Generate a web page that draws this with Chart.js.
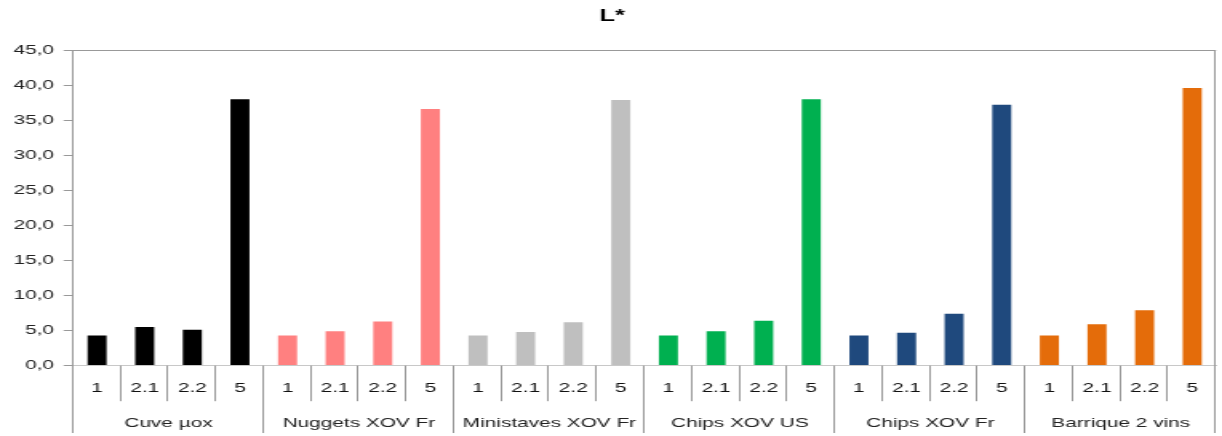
<!DOCTYPE html>
<html>
<head>
<meta charset="utf-8">
<script src="https://cdn.jsdelivr.net/npm/chart.js@4"></script>
<style>
    html, body { margin: 0; padding: 0; background: #fff; }
    /* the reference picture is stretched sideways, so draw narrow and stretch the canvas */
    #chart { display: block; width: 1222px !important; height: 436px !important; }
</style>
</head>
<body>
<canvas id="chart" width="764" height="436" style="width:1222px;height:436px"></canvas>
<script>
// Group names and sample labels
const groups = ['Cuve µox', 'Nuggets XOV Fr', 'Ministaves XOV Fr', 'Chips XOV US', 'Chips XOV Fr', 'Barrique 2 vins'];
const samples = ['1', '2.1', '2.2', '5'];

// L* values per group
const cuveMuox = [4.3, 5.5, 5.1, 38.0];
const nuggetsFr = [4.3, 4.9, 6.3, 36.6];
const ministavesFr = [4.3, 4.8, 6.2, 37.9];
const chipsUS = [4.3, 4.9, 6.4, 38.0];
const chipsFr = [4.3, 4.7, 7.4, 37.2];
const barrique = [4.3, 5.9, 7.9, 39.6];

const groupColors = ['#000000', '#FF8080', '#BFBFBF', '#00B050', '#1F497D', '#E46C0A'];

// Y axis ticks
const yMin = 0;
const yMax = 45;
const yStep = 5;

const allValues = [cuveMuox, nuggetsFr, ministavesFr, chipsUS, chipsFr, barrique].flat();
const subLabels = groups.flatMap(() => samples);
const barColors = groups.flatMap((g, i) => samples.map(() => groupColors[i]));

Chart.defaults.font.family = '"Liberation Sans", Arial, sans-serif';
Chart.defaults.font.size = 13;
Chart.defaults.color = '#222';

// Draws the box lines and the category / group dividers below the axis
const dividers = {
    id: 'dividers',
    afterDraw(chart) {
        const { ctx, chartArea, scales } = chart;
        const x = scales.x;
        const x2 = scales.x2;
        const n = x.ticks.length;
        const w = (x.right - x.left) / n;
        ctx.save();
        ctx.strokeStyle = '#999';
        ctx.lineWidth = 1;
        ctx.beginPath();
        // top border and right border
        ctx.moveTo(chartArea.left, Math.round(chartArea.top) + 0.5);
        ctx.lineTo(chartArea.right, Math.round(chartArea.top) + 0.5);
        for (let i = 0; i <= n; i++) {
            const px = Math.round(x.left + i * w) - 0.5;
            const isGroup = i % samples.length === 0;
            const top = (i === n) ? chartArea.top : chartArea.bottom;
            const bottom = isGroup ? x2.bottom - 3 : x.bottom - 10;
            ctx.moveTo(px, top);
            ctx.lineTo(px, bottom);
        }
        ctx.stroke();
        ctx.restore();
    }
};

const ctx = document.getElementById('chart').getContext('2d');
const lChart = new Chart(ctx, {
    type: 'bar',
    data: {
        labels: subLabels,
        datasets: [{
            label: 'L*',
            data: allValues,
            backgroundColor: barColors,
            borderWidth: 0,
            barPercentage: 0.4,
            categoryPercentage: 1
        }]
    },
    options: {
        responsive: false,
        devicePixelRatio: 1,
        animation: false,
        layout: {
            padding: { left: 2.5, right: 1, top: 0, bottom: 0 }
        },
        plugins: {
            legend: { display: false },
            tooltip: { enabled: false },
            title: {
                display: true,
                text: 'L*',
                color: '#000',
                font: { size: 16, weight: 'bold' },
                padding: { top: 7, bottom: 24 }
            }
        },
        scales: {
            x: {
                type: 'category',
                offset: true,
                grid: { display: false, drawTicks: false },
                border: { display: true, color: '#c8c8c8' },
                ticks: { padding: 15, maxRotation: 0, autoSkip: false, color: '#111' }
            },
            x2: {
                type: 'category',
                labels: groups,
                position: 'bottom',
                weight: 1,
                offset: true,
                grid: { display: false, drawTicks: false },
                border: { display: false },
                ticks: { padding: 4.6, maxRotation: 0, autoSkip: false, color: '#222' }
            },
            y: {
                min: yMin,
                max: yMax,
                ticks: {
                    stepSize: yStep,
                    padding: 6,
                    color: '#222',
                    callback: v => v.toFixed(1).replace('.', ',')
                },
                grid: {
                    drawOnChartArea: false,
                    drawTicks: true,
                    tickLength: 6,
                    color: '#999'
                },
                border: { display: true, color: '#999' }
            }
        }
    },
    plugins: [dividers]
});
</script>
</body>
</html>
